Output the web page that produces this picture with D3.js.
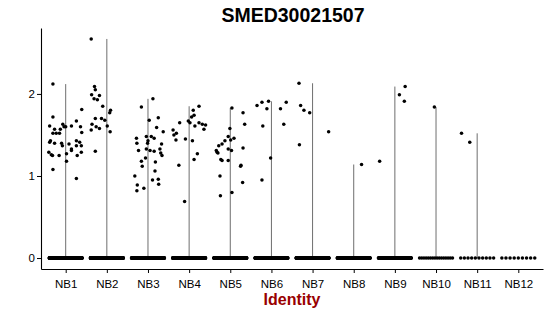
<!DOCTYPE html>
<html>
<head>
<meta charset="utf-8">
<script src="https://cdn.jsdelivr.net/npm/d3@7"></script>
<style>
  body { margin: 0; background: #fff; }
  text { font-family: "Liberation Sans", Arial, sans-serif; }
</style>
</head>
<body>
<script>
const width = 550;
const height = 316;

const groups = ["NB1", "NB2", "NB3", "NB4", "NB5", "NB6", "NB7", "NB8", "NB9", "NB10", "NB11", "NB12"];
const yTicks = [0, 1, 2];

// cells with zero expression per identity
const zeroCounts = [320, 400, 300, 330, 330, 200, 260, 230, 170, 16, 10, 9];

// expressed cells: [jitter (category units), expression]
const nb1 = [[-0.31, 2.12], [-0.31, 1.72], [0.39, 1.81], [-0.39, 1.61], [-0.27, 1.57], [-0.31, 1.52],
    [-0.23, 1.52], [-0.15, 1.52], [-0.07, 1.63], [-0.13, 1.57], [-0.04, 1.60], [0.0, 1.60],
    [0.14, 1.61], [0.26, 1.67], [0.36, 1.60], [0.39, 1.53], [-0.39, 1.41], [-0.37, 1.43],
    [-0.27, 1.40], [-0.10, 1.40], [-0.08, 1.37], [0.08, 1.39], [0.26, 1.43], [0.34, 1.41],
    [0.26, 1.37], [0.38, 1.37], [0.14, 1.33], [-0.41, 1.29], [-0.35, 1.26], [-0.32, 1.25],
    [-0.16, 1.25], [0.02, 1.27], [0.02, 1.18], [0.14, 1.31], [0.28, 1.25], [0.38, 1.29],
    [-0.31, 1.08], [0.26, 0.97]];
const nb2 = [[-0.38, 2.67], [-0.30, 2.09], [-0.28, 2.05], [-0.37, 1.99], [-0.18, 1.98], [-0.31, 1.94],
    [-0.23, 1.93], [-0.10, 1.85], [0.09, 1.80], [0.07, 1.77], [-0.36, 1.63], [-0.28, 1.70],
    [-0.38, 1.56], [-0.26, 1.60], [-0.18, 1.58], [-0.13, 1.70], [-0.05, 1.68], [0.01, 1.61],
    [0.08, 1.54], [-0.28, 1.30]];
const nb3 = [[0.12, 1.94], [-0.16, 1.84], [0.03, 1.68], [0.25, 1.71], [0.21, 1.59], [0.37, 1.54],
    [-0.28, 1.46], [-0.27, 1.40], [-0.04, 1.48], [0.08, 1.48], [0.15, 1.46], [0.0, 1.43],
    [-0.01, 1.40], [0.33, 1.39], [-0.23, 1.31], [-0.04, 1.33], [0.15, 1.30], [0.05, 1.31],
    [0.29, 1.33], [0.31, 1.28], [0.34, 1.25], [-0.06, 1.22], [-0.16, 1.18], [-0.14, 1.12],
    [0.18, 1.17], [0.17, 1.06], [-0.32, 1.00], [0.11, 0.95], [0.25, 0.96], [0.26, 0.90],
    [-0.26, 0.89], [-0.10, 0.85], [-0.27, 0.82]];
const nb4 = [[0.24, 1.85], [0.10, 1.80], [0.12, 1.74], [0.06, 1.72], [-0.02, 1.67], [0.02, 1.65],
    [-0.23, 1.65], [0.24, 1.65], [0.32, 1.63], [0.40, 1.62], [0.36, 1.57], [0.14, 1.61],
    [-0.39, 1.56], [-0.31, 1.52], [-0.37, 1.50], [-0.32, 1.44], [-0.09, 1.45], [0.08, 1.43],
    [0.20, 1.27], [0.12, 1.20], [-0.25, 1.13], [-0.11, 0.69]];
const nb5 = [[0.04, 1.83], [0.31, 1.77], [0.35, 1.63], [-0.01, 1.58], [-0.05, 1.48], [0.09, 1.46],
    [0.01, 1.44], [-0.13, 1.43], [-0.28, 1.37], [-0.20, 1.39], [-0.34, 1.31], [-0.30, 1.28],
    [-0.32, 1.29], [-0.05, 1.33], [0.03, 1.31], [0.31, 1.34], [-0.23, 1.20], [-0.20, 1.19],
    [-0.05, 1.19], [0.26, 1.13], [0.25, 1.12], [-0.25, 1.00], [0.30, 0.92], [0.04, 0.80],
    [-0.24, 0.76]];
const nb6 = [[-0.35, 1.86], [-0.23, 1.90], [-0.07, 1.91], [-0.11, 1.82], [0.36, 1.90], [0.22, 1.82],
    [-0.21, 1.61], [0.30, 1.63], [-0.02, 1.22], [-0.23, 0.95]];
const nb7 = [[-0.33, 2.13], [-0.29, 1.86], [-0.21, 1.80], [-0.07, 1.77], [-0.32, 1.38], [0.39, 1.54]];
const nb8 = [[0.19, 1.14]];
const nb9 = [[-0.37, 1.18], [0.11, 1.99], [0.25, 2.09], [0.23, 1.91]];
const nb10 = [[-0.04, 1.84]];
const nb11 = [[-0.38, 1.52], [-0.18, 1.41]];
const nb12 = [];
const groupPoints = [nb1, nb2, nb3, nb4, nb5, nb6, nb7, nb8, nb9, nb10, nb11, nb12];

const margin = { top: 28, right: 7, bottom: 47, left: 41 };

const svg = d3.select("body").append("svg")
    .attr("width", width)
    .attr("height", height);

const maxValue = d3.max(groupPoints.flat(), d => d[1]);

const x = d3.scalePoint()
    .domain(groups)
    .range([margin.left, width - margin.right])
    .padding(0.6);

const y = d3.scaleLinear()
    .domain([-0.05 * maxValue, 1.05 * maxValue])
    .range([height - margin.bottom, margin.top]);

// violins collapse to thin lines from 0 to the group max
svg.append("g")
    .selectAll("line")
    .data(groups.map((g, i) => ({ g, max: d3.max(groupPoints[i], d => d[1]) })).filter(d => d.max))
    .enter()
    .append("line")
    .attr("x1", d => x(d.g))
    .attr("x2", d => x(d.g))
    .attr("y1", y(0))
    .attr("y2", d => y(d.max))
    .style("stroke", "#6e6e6e")
    .style("stroke-width", 1);

// build the cells: zeros spread over the jitter width, expressed cells as read
const cells = [];
groups.forEach((g, i) => {
    const n = zeroCounts[i];
    for (let k = 0; k < n; k++) {
        cells.push({ g, jitter: n > 1 ? -0.4 + 0.8 * k / (n - 1) : 0, value: 0 });
    }
    groupPoints[i].forEach(p => cells.push({ g, jitter: p[0], value: p[1] }));
});

svg.append("g")
    .selectAll("circle")
    .data(cells)
    .enter()
    .append("circle")
    .attr("cx", d => x(d.g) + d.jitter * x.step())
    .attr("cy", d => y(d.value))
    .attr("r", 1.75)
    .style("fill", "black");

const xAxis = svg.append("g")
    .attr("transform", `translate(0, ${height - margin.bottom})`)
    .call(d3.axisBottom(x).tickSize(4).tickSizeOuter(0));

const yAxis = svg.append("g")
    .attr("transform", `translate(${margin.left}, 0)`)
    .call(d3.axisLeft(y).tickValues(yTicks).tickFormat(d3.format("d")).tickSize(4).tickSizeOuter(0));

[xAxis, yAxis].forEach(a => {
    a.select(".domain").style("stroke", "black").style("stroke-width", 1.1);
    a.selectAll(".tick line").style("stroke", "black");
    a.selectAll(".tick text")
        .style("font-family", "Liberation Sans, Arial, sans-serif")
        .style("font-size", "11.5px")
        .style("fill", "black");
});
xAxis.selectAll(".tick text").attr("dy", "1.05em");
yAxis.selectAll(".tick text").attr("x", -6);

svg.append("text")
    .attr("x", 293)
    .attr("y", 22)
    .text("SMED30021507")
    .style("font-size", "19.5px")
    .style("font-weight", "bold")
    .style("text-anchor", "middle");

svg.append("text")
    .attr("x", (margin.left + width - margin.right) / 2)
    .attr("y", 305)
    .text("Identity")
    .style("font-size", "16px")
    .style("font-weight", "bold")
    .style("fill", "#990000")
    .style("text-anchor", "middle");
</script>
</body>
</html>
